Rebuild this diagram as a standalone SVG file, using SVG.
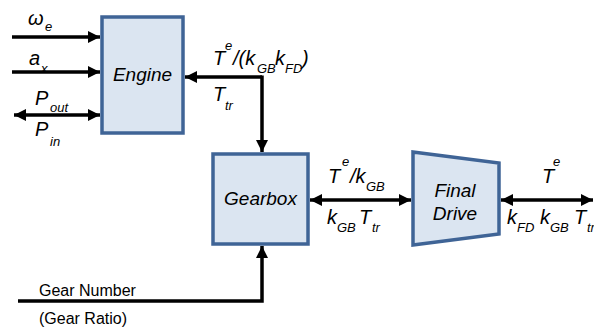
<svg xmlns="http://www.w3.org/2000/svg" width="594" height="331" viewBox="0 0 594 331">
<defs>
<marker id="ah" markerUnits="userSpaceOnUse" markerWidth="14" markerHeight="14" refX="12" refY="7" orient="auto-start-reverse" viewBox="0 0 14 14">
<path d="M0,1 L12,7 L0,13 Z" fill="#000"/>
</marker>
<style>
.box{fill:#DBE5F1;stroke:#3F6496;stroke-width:3.5}
.ln{fill:none;stroke:#000;stroke-width:3.5}
.t{font-family:"Liberation Sans",Arial,sans-serif;font-style:italic;fill:#000}
.m{font-size:20px}
.s{font-size:13px}
.bl{font-size:19px}
.r{font-family:"Liberation Sans",Arial,sans-serif;font-size:16px;fill:#000}
</style>
</defs>
<rect width="594" height="331" fill="#fff"/>
<g id="connectors">
<line class="ln" x1="12" y1="37" x2="100" y2="37" marker-end="url(#ah)"/>
<line class="ln" x1="12" y1="72" x2="100" y2="72" marker-end="url(#ah)"/>
<line class="ln" x1="14" y1="115" x2="100" y2="115" marker-start="url(#ah)" marker-end="url(#ah)"/>
<line class="ln" x1="262" y1="77" x2="185" y2="77" marker-end="url(#ah)"/>
<line class="ln" x1="262" y1="75.5" x2="262" y2="152" marker-end="url(#ah)"/>
<line class="ln" x1="310" y1="200" x2="411" y2="200" marker-start="url(#ah)" marker-end="url(#ah)"/>
<line class="ln" x1="501" y1="200" x2="593" y2="200" marker-start="url(#ah)" marker-end="url(#ah)"/>
<polyline class="ln" points="18,301 262,301 262,246" marker-end="url(#ah)"/>
</g>
<g id="engine">
<rect class="box" x="102" y="17" width="81" height="116"/>
<text class="t bl" x="142.5" y="81" text-anchor="middle">Engine</text>
</g>
<g id="gearbox">
<rect class="box" x="213" y="154" width="95" height="90"/>
<text class="t bl" x="260.5" y="205" text-anchor="middle">Gearbox</text>
</g>
<g id="final-drive">
<path class="box" d="M413,152 L499,163 L499,234 L413,245 Z"/>
<text class="t bl" x="455" y="197" text-anchor="middle">Final</text>
<text class="t bl" x="455" y="220" text-anchor="middle">Drive</text>
</g>
<g id="labels">
<text class="t m" x="28" y="25">ω</text><text class="t s" x="45" y="31">e</text>
<text class="t m" x="29" y="65">a</text><text class="t s" x="41" y="73">x</text>
<text class="t m" x="35" y="105">P</text><text class="t s" x="50" y="112">out</text>
<text class="t m" x="35" y="136">P</text><text class="t s" x="50" y="146">in</text>
<text class="t m" x="213" y="65">T</text><text class="t s" x="225" y="50">e</text><text class="t m" x="233" y="65">/(k</text><text class="t s" x="257" y="73">GB</text><text class="t m" x="275" y="65">k</text><text class="t s" x="285" y="73">FD</text><text class="t m" x="302" y="65">)</text>
<text class="t m" x="213" y="101">T</text><text class="t s" x="225" y="110">tr</text>
<text class="t m" x="328" y="183">T</text><text class="t s" x="342" y="166">e</text><text class="t m" x="350" y="183">/k</text><text class="t s" x="366" y="191">GB</text>
<text class="t m" x="327" y="224">k</text><text class="t s" x="337" y="232">GB</text><text class="t m" x="359" y="224">T</text><text class="t s" x="372" y="232">tr</text>
<text class="t m" x="542" y="183">T</text><text class="t s" x="553" y="166">e</text>
<text class="t m" x="507" y="224">k</text><text class="t s" x="517" y="232">FD</text><text class="t m" x="540" y="224">k</text><text class="t s" x="550" y="232">GB</text><text class="t m" x="574" y="224">T</text><text class="t s" x="587" y="232">tr</text>
<text class="r" x="39" y="296">Gear Number</text>
<text class="r" x="39" y="324">(Gear Ratio)</text>
</g>
</svg>
